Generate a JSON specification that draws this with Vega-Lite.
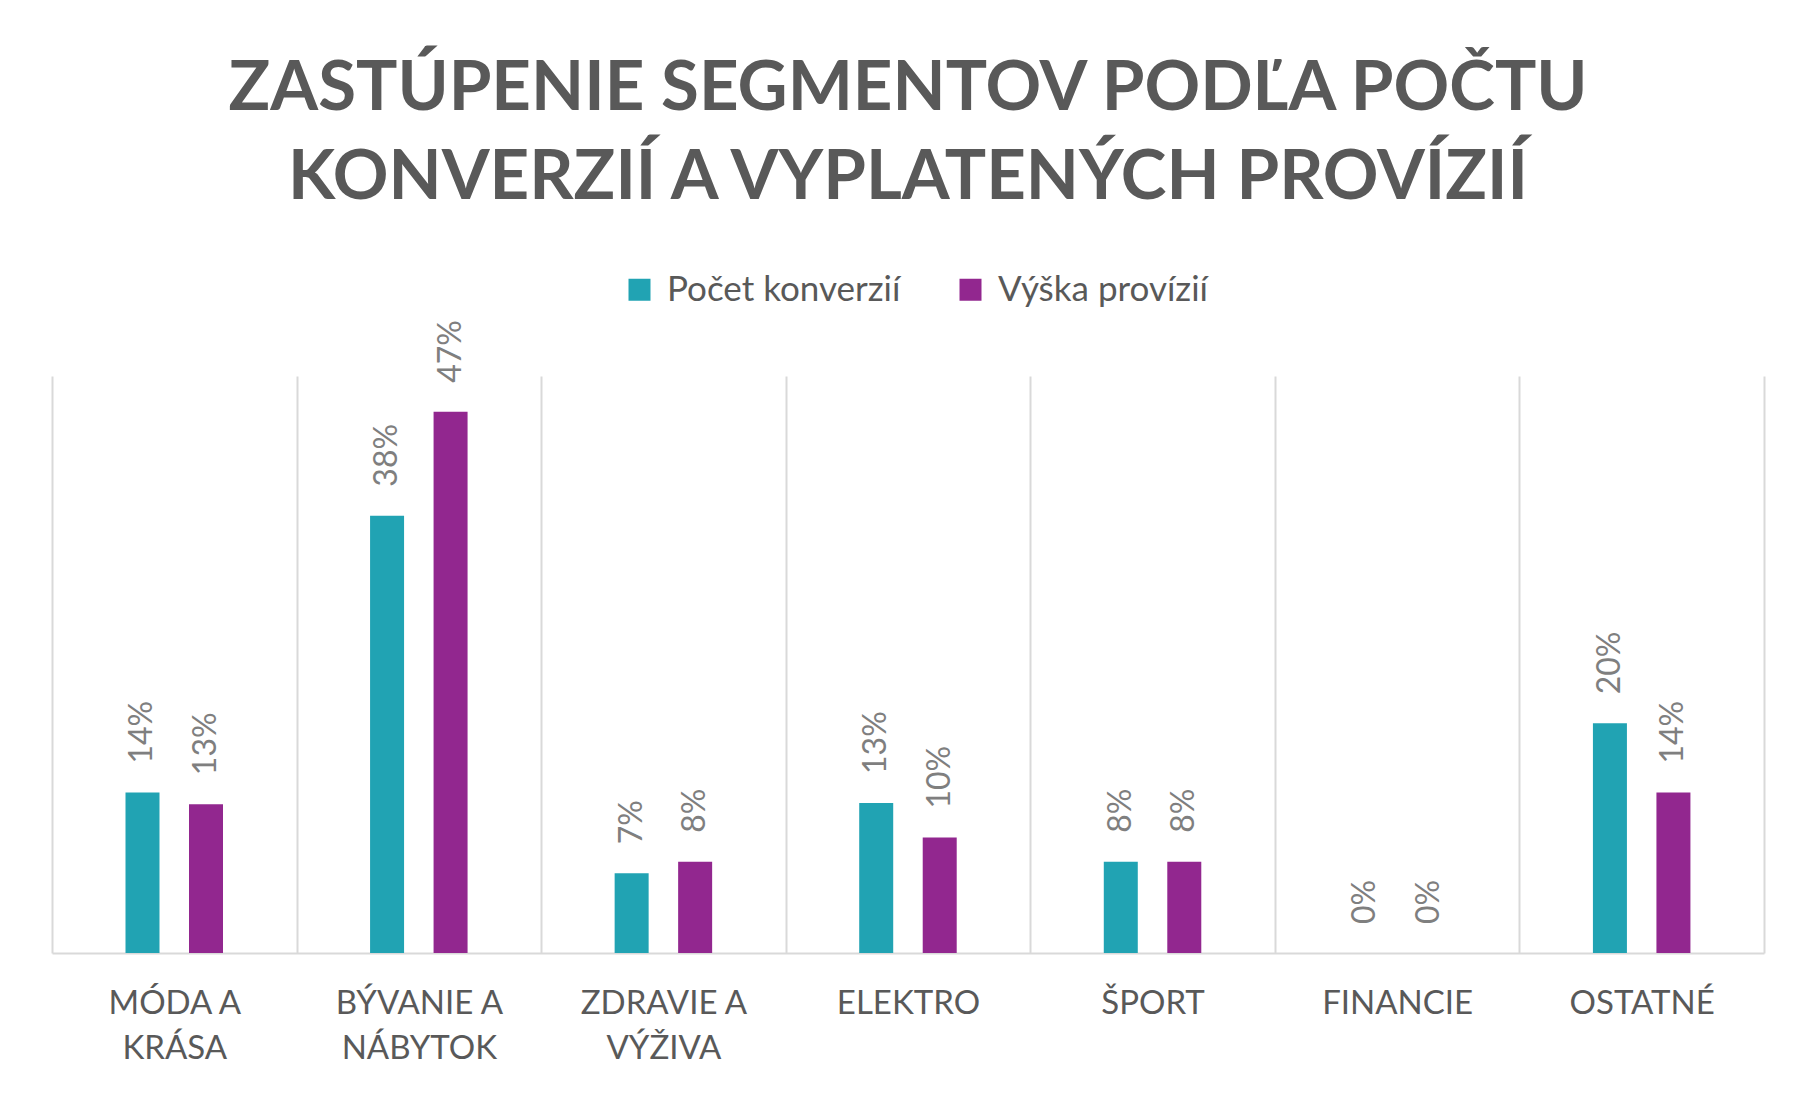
{
  "$schema": "https://vega.github.io/schema/vega-lite/v6.json",
  "width": 1712,
  "height": 577,
  "autosize": "none",
  "padding": {"left": 52, "top": 376, "right": 53, "bottom": 146},
  "background": "white",
  "title": {
    "text": ["ZASTÚPENIE SEGMENTOV PODĽA POČTU", "KONVERZIÍ A VYPLATENÝCH PROVÍZIÍ"],
    "font": "Lato",
    "fontSize": 69,
    "fontWeight": "bold",
    "color": "#595959",
    "lineHeight": 89,
    "anchor": "middle",
    "offset": 59
  },
  "data": {
    "values": [
      {"segment": "MÓDA A KRÁSA", "metric": "Počet konverzií", "share": 0.139},
      {"segment": "MÓDA A KRÁSA", "metric": "Výška provízií", "share": 0.129},
      {"segment": "BÝVANIE A NÁBYTOK", "metric": "Počet konverzií", "share": 0.379},
      {"segment": "BÝVANIE A NÁBYTOK", "metric": "Výška provízií", "share": 0.469},
      {"segment": "ZDRAVIE A VÝŽIVA", "metric": "Počet konverzií", "share": 0.069},
      {"segment": "ZDRAVIE A VÝŽIVA", "metric": "Výška provízií", "share": 0.079},
      {"segment": "ELEKTRO", "metric": "Počet konverzií", "share": 0.130},
      {"segment": "ELEKTRO", "metric": "Výška provízií", "share": 0.100},
      {"segment": "ŠPORT", "metric": "Počet konverzií", "share": 0.079},
      {"segment": "ŠPORT", "metric": "Výška provízií", "share": 0.079},
      {"segment": "FINANCIE", "metric": "Počet konverzií", "share": 0},
      {"segment": "FINANCIE", "metric": "Výška provízií", "share": 0},
      {"segment": "OSTATNÉ", "metric": "Počet konverzií", "share": 0.199},
      {"segment": "OSTATNÉ", "metric": "Výška provízií", "share": 0.139}
    ]
  },
  "encoding": {
    "x": {
      "field": "segment",
      "type": "nominal",
      "sort": null,
      "scale": {"paddingInner": 0, "paddingOuter": 0},
      "axis": {
        "title": null,
        "tickBand": "extent",
        "grid": true,
        "gridColor": "#D9D9D9",
        "gridWidth": 2,
        "ticks": false,
        "tickSize": 0,
        "domainColor": "#D9D9D9",
        "domainWidth": 2,
        "labelAngle": 0,
        "labelFont": "Lato",
        "labelFontSize": 33,
        "labelColor": "#595959",
        "labelPadding": 34,
        "labelBaseline": "top",
        "labelLineHeight": 45,
        "labelLimit": 240,
        "labelExpr": "split(replace(datum.label, ' A ', ' A|'), '|')"
      }
    },
    "xOffset": {
      "field": "metric",
      "type": "nominal",
      "sort": null,
      "scale": {"range": [73.5, 171], "paddingInner": 0.4646, "paddingOuter": 0}
    },
    "y": {
      "field": "share",
      "type": "quantitative",
      "scale": {"domain": [0, 0.5]},
      "axis": null
    }
  },
  "layer": [
    {
      "mark": {"type": "bar"},
      "encoding": {
        "color": {
          "field": "metric",
          "type": "nominal",
          "sort": null,
          "scale": {
            "domain": ["Počet konverzií", "Výška provízií"],
            "range": ["#21A3B3", "#92278F"]
          },
          "legend": {
            "title": null,
            "orient": "none",
            "direction": "horizontal",
            "legendX": 570,
            "legendY": -104,
            "symbolType": "square",
            "symbolSize": 484,
            "symbolStrokeWidth": 0,
            "labelFont": "Lato",
            "labelFontSize": 35,
            "labelColor": "#595959",
            "labelOffset": 10,
            "labelLimit": 400,
            "columnPadding": 52
          }
        }
      }
    },
    {
      "mark": {
        "type": "text",
        "angle": 270,
        "align": "left",
        "baseline": "middle",
        "dx": 29,
        "font": "Lato",
        "fontSize": 32,
        "color": "#7F7F7F"
      },
      "encoding": {
        "text": {"field": "share", "type": "quantitative", "format": ".0%"}
      }
    }
  ],
  "config": {
    "view": {"stroke": null},
    "font": "Lato"
  }
}
